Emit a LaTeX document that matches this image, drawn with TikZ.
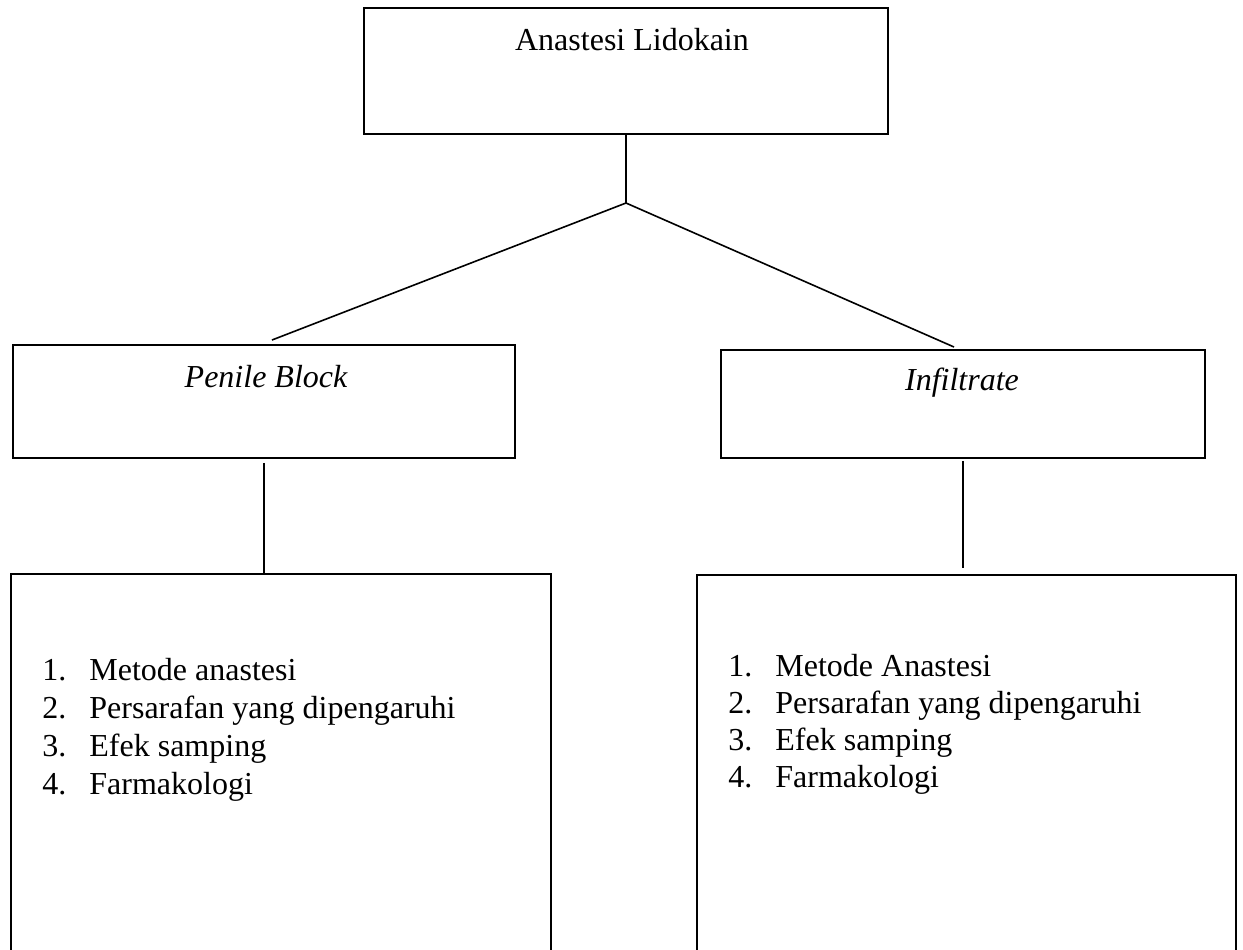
\documentclass[tikz,border=0pt]{standalone}
\usepackage{fontspec}
\setmainfont{Liberation Serif}

\tikzset{
    kotak/.style={draw, line width=0.9pt, inner sep=0pt},
    garis/.style={line width=0.8pt},
    teks/.style={anchor=base, inner sep=0pt}
}

\begin{document}
\begin{tikzpicture}[x=0.5pt, y=-0.5pt, font=\fontsize{16pt}{17pt}\selectfont]
        \useasboundingbox (0,0) rectangle (1243,949);

        % Kotak utama
        \node[kotak, minimum width=262pt, minimum height=63pt] (utama) at (626,71) {};
        \node[teks] (tutama) at (632,50) {Anastesi Lidokain};

        % Cabang ke dua metode
        \coordinate (cabang) at (626,203);
        \coordinate (ujungkiri) at (272,340);
        \coordinate (ujungkanan) at (954,347);
        \draw[garis] (utama.south) -- (cabang);
        \draw[garis] (cabang) -- (ujungkiri);
        \draw[garis] (cabang) -- (ujungkanan);

        % Kotak metode
        \node[kotak, minimum width=251pt, minimum height=56.5pt] (blok) at (264,401.5) {};
        \node[teks, font=\fontsize{16pt}{17pt}\selectfont\itshape] (tblok) at (266,387) {Penile Block};
        \node[kotak, minimum width=242pt, minimum height=54pt] (infil) at (963,404) {};
        \node[teks, font=\fontsize{16pt}{17pt}\selectfont\itshape] (tinfil) at (962,390) {Infiltrate};

        % Kotak daftar (terpotong di bawah)
        \node[kotak, minimum width=270pt, minimum height=218pt] (daftarkiri) at (281,792) {};
        \node[kotak, minimum width=269.5pt, minimum height=218pt] (daftarkanan) at (966.5,793) {};
        \draw[garis, shorten <=2pt] (blok.south) -- (blok.south |- daftarkiri.north);
        \draw[garis, shorten <=1pt, shorten >=3pt] (infil.south) -- (infil.south |- daftarkanan.north);

        % Isi daftar
        \foreach \t [count=\i] in {Metode anastesi, Persarafan yang dipengaruhi, Efek samping, Farmakologi} {
            \node[teks, anchor=base west] (nkiri\i) at (42,{642+38*\i}) {\i.};
            \node[teks, anchor=base west] (tkiri\i) at (89,{642+38*\i}) {\t};
        }
        \foreach \t [count=\i] in {Metode Anastesi, Persarafan yang dipengaruhi, Efek samping, Farmakologi} {
            \node[teks, anchor=base west] (nkanan\i) at (728,{639+37*\i}) {\i.};
            \node[teks, anchor=base west] (tkanan\i) at (775,{639+37*\i}) {\t};
        }
\end{tikzpicture}
\end{document}
